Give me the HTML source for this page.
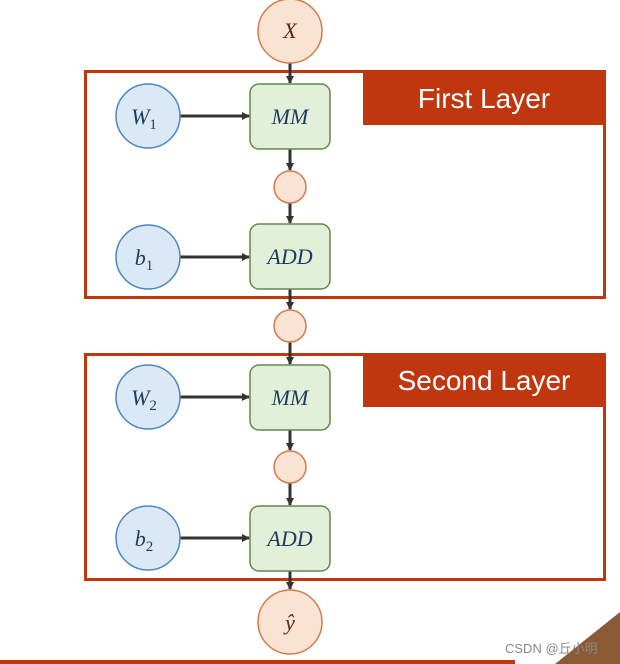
<!DOCTYPE html>
<html><head><style>
body{margin:0;background:#fff;width:620px;height:664px;overflow:hidden;position:relative;font-family:"Liberation Sans",sans-serif}
</style></head><body>
<svg width="620" height="664" xmlns="http://www.w3.org/2000/svg" style="position:absolute;left:0;top:0">
<defs><marker id="a" markerWidth="8" markerHeight="8" refX="7" refY="4" orient="auto" markerUnits="userSpaceOnUse"><path d="M0,0L8,4L0,8z" fill="#333"/></marker></defs>
<g fill="none" stroke="#c0370f" stroke-width="3">
<rect x="85.5" y="71.5" width="519" height="226"/>
<rect x="85.5" y="354.5" width="519" height="225"/>
</g>
<rect x="363" y="71" width="243" height="54" fill="#c0370f"/>
<rect x="363" y="353" width="243" height="54" fill="#c0370f"/>
<text x="484" y="108" fill="#fff" font-size="28" text-anchor="middle">First Layer</text>
<text x="484" y="390" fill="#fff" font-size="28" text-anchor="middle">Second Layer</text>
<g stroke="#333" stroke-width="3" marker-end="url(#a)">
<line x1="290" y1="62" x2="290" y2="83"/>
<line x1="290" y1="149" x2="290" y2="170"/>
<line x1="290" y1="203" x2="290" y2="223"/>
<line x1="290" y1="289" x2="290" y2="309"/>
<line x1="290" y1="342" x2="290" y2="364"/>
<line x1="290" y1="430" x2="290" y2="450"/>
<line x1="290" y1="483" x2="290" y2="505"/>
<line x1="290" y1="571" x2="290" y2="589"/>
<line x1="180" y1="116" x2="249" y2="116"/>
<line x1="180" y1="257" x2="249" y2="257"/>
<line x1="180" y1="397" x2="249" y2="397"/>
<line x1="180" y1="538" x2="249" y2="538"/>
</g>
<g fill="#fbe3d4" stroke="#d67a4a" stroke-width="1.5">
<circle cx="290" cy="31" r="32"/><circle cx="290" cy="187" r="16"/><circle cx="290" cy="326" r="16"/><circle cx="290" cy="467" r="16"/><circle cx="290" cy="622" r="32"/>
</g>
<g fill="#dbe9f7" stroke="#4a86c5" stroke-width="1.5">
<circle cx="148" cy="116" r="32"/><circle cx="148" cy="257" r="32"/><circle cx="148" cy="397" r="32"/><circle cx="148" cy="538" r="32"/>
</g>
<g fill="#e2efd9" stroke="#5f8a4a" stroke-width="1.5">
<rect x="250" y="84" width="80" height="65" rx="9"/><rect x="250" y="224" width="80" height="65" rx="9"/>
<rect x="250" y="365" width="80" height="65" rx="9"/><rect x="250" y="506" width="80" height="65" rx="9"/>
</g>
<g font-family="Liberation Serif,serif" font-style="italic" font-size="22" text-anchor="middle" fill="#1f3a5f">
<text x="290" y="38" fill="#5a2a10">X</text>
<text x="290" y="630" fill="#5a2a10">ŷ</text>
<text x="290" y="124">MM</text><text x="290" y="264">ADD</text>
<text x="290" y="405">MM</text><text x="290" y="546">ADD</text>
<text x="144" y="124">W<tspan font-style="normal" font-size="15" dy="5">1</tspan></text>
<text x="144" y="265">b<tspan font-style="normal" font-size="15" dy="5">1</tspan></text>
<text x="144" y="405">W<tspan font-style="normal" font-size="15" dy="5">2</tspan></text>
<text x="144" y="546">b<tspan font-style="normal" font-size="15" dy="5">2</tspan></text>
</g>
<rect x="0" y="660" width="515" height="4" fill="#c0370f"/>
<path d="M555,664L620,612L620,664z" fill="#8a5a35"/>
<text x="505" y="653" font-size="13" fill="#888">CSDN @丘小明</text>
</svg>
</body></html>
